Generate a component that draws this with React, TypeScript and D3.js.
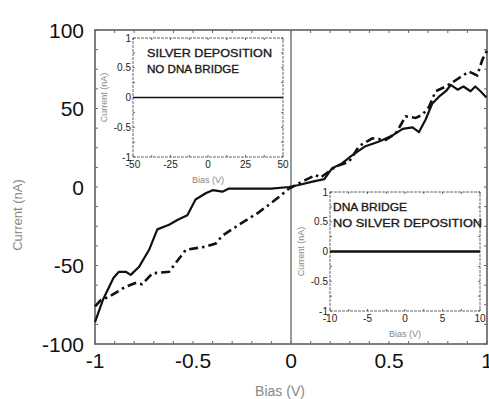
import React from "react";
import * as d3 from "d3";

// main I-V curves (Bias in V, Current in nA)
const solidBias = [-1, -0.96, -0.906, -0.878, -0.843, -0.818, -0.776, -0.724, -0.682, -0.622, -0.58, -0.529, -0.487, -0.435, -0.4, -0.35, -0.316, -0.2, -0.1, -0.01, 0.04, 0.11, 0.17, 0.21, 0.26, 0.31, 0.38, 0.45, 0.52, 0.57, 0.62, 0.653, 0.687, 0.72, 0.755, 0.79, 0.815, 0.85, 0.88, 0.916, 0.94, 0.967, 0.997];
const solidCurrent = [-86, -72, -58, -54, -54, -56, -51, -40, -27, -24, -21, -18, -8, -4, -2, -3, -1, -1, -1, 0, 1.3, 3.4, 5, 12, 15, 20, 26, 29, 33, 37, 38, 35, 43, 53, 57.5, 61, 65, 62, 64, 61, 64, 61, 57];

const dashBias = [-1, -0.97, -0.93, -0.843, -0.79, -0.76, -0.707, -0.622, -0.537, -0.435, -0.384, -0.35, -0.265, -0.163, -0.078, -0.01, 0.075, 0.126, 0.15, 0.228, 0.296, 0.347, 0.415, 0.483, 0.534, 0.585, 0.636, 0.67, 0.704, 0.738, 0.79, 0.84, 0.908, 0.95, 0.976, 1.0];
const dashCurrent = [-76, -72, -70, -63.5, -61, -62, -55, -54, -40, -38, -36, -31, -24, -16, -8, -1, 4.5, 7.6, 6, 13, 16, 26, 31, 30, 34, 45, 44, 46, 51, 61, 64, 68, 73.5, 71, 81, 87];

const mainXTicks = [-1, -0.5, 0, 0.5, 1];
const mainYTicks = [-100, -50, 0, 50, 100];

// insets: flat zero-current traces
const inset1Bias = [-50, 50];
const inset1Current = [0, 0];
const inset1XTicks = [-50, -25, 0, 25, 50];
const inset2Bias = [-10, 10];
const inset2Current = [0, 0];
const inset2XTicks = [-10, -5, 0, 5, 10];
const insetYTicks = [-1, -0.5, 0, 0.5, 1];

const FONT = "'Liberation Sans', Arial, Helvetica, sans-serif";

function Inset(props: {
    x0: number; y0: number; w: number; h: number;
    domain: [number, number]; xTicks: number[];
    bias: number[]; current: number[];
    lines: string[]; textX: number; lineW: number; textWidths: number[];
}) {
    const { x0, y0, w, h, domain, xTicks, bias, current, lines, textX, lineW, textWidths } = props;
    const x = d3.scaleLinear().domain(domain).range([x0, x0 + w]);
    const y = d3.scaleLinear().domain([-1, 1]).range([y0 + h, y0]);
    const line = d3.line<number>().x((d, i) => x(bias[i])).y((d) => y(d));
    const minorX = d3.range(domain[0], domain[1] + 0.001, (domain[1] - domain[0]) / 8);
    const minorY = d3.range(-1, 1.001, 0.25);
    return (
        <g fontFamily={FONT}>
            <rect x={x0} y={y0} width={w} height={h} fill="#fff" stroke="#666" strokeWidth={1} strokeDasharray="3,1" />
            {minorX.map((t, i) => (
                <g key={"mx" + i}>
                    <line x1={x(t)} x2={x(t)} y1={y0 + h} y2={y0 + h - 2} stroke="#666" />
                    <line x1={x(t)} x2={x(t)} y1={y0} y2={y0 + 2} stroke="#666" />
                </g>
            ))}
            {minorY.map((t, i) => (
                <g key={"my" + i}>
                    <line x1={x0} x2={x0 + 2} y1={y(t)} y2={y(t)} stroke="#666" />
                    <line x1={x0 + w} x2={x0 + w - 2} y1={y(t)} y2={y(t)} stroke="#666" />
                </g>
            ))}
            <path d={line(current) || ""} fill="none" stroke="#111" strokeWidth={lineW} />
            {xTicks.map((t) => (
                <text key={"xt" + t} x={x(t)} y={y0 + h + 11} fontSize={10} textAnchor="middle" fill="#222">{t}</text>
            ))}
            {insetYTicks.map((t) => (
                <text key={"yt" + t} x={x0 - 2} y={y(t) + 3.5} fontSize={10} textAnchor="end" fill="#222">{t}</text>
            ))}
            <text x={x0 + w / 2} y={y0 + h + 26} fontSize={9} textAnchor="middle" fill="#888">Bias (V)</text>
            <text transform={`translate(${x0 - 26},${y0 + h / 2}) rotate(-90)`} fontSize={9} textAnchor="middle" fill="#888">Current (nA)</text>
            {lines.map((s, i) => (
                <text key={s} x={textX} y={y0 + 19 + i * 16} fontSize={11.5} fill="#1a1a1a"
                    stroke="#1a1a1a" strokeWidth={0.35}
                    textLength={textWidths[i]} lengthAdjust="spacingAndGlyphs">{s}</text>
            ))}
        </g>
    );
}

export default function App() {
    const width = 489, height = 399;
    const left = 95, right = 487, top = 30, bottom = 344;
    const x = d3.scaleLinear().domain([-1, 1]).range([left, right]);
    const y = d3.scaleLinear().domain([-100, 100]).range([bottom, top]);

    const solidLine = d3.line<number>().x((d, i) => x(solidBias[i])).y((d) => y(d)).curve(d3.curveLinear);
    const dashLine = d3.line<number>().x((d, i) => x(dashBias[i])).y((d) => y(d)).curve(d3.curveLinear);

    const minorX = d3.range(-1, 1.001, 0.1);
    const minorY = d3.range(-100, 100.001, 12.5);

    return (
        <svg width={width} height={height} style={{ position: "absolute", left: 0, top: 0, background: "#fff" }}>
            <rect width={width} height={height} fill="#fff" />
            {/* main frame */}
            <rect x={left} y={top} width={right - left} height={bottom - top} fill="none" stroke="#555" strokeWidth={1.5} />
            {minorX.map((t, i) => (
                <g key={"mx" + i}>
                    <line x1={x(t)} x2={x(t)} y1={bottom} y2={bottom - 3} stroke="#666" />
                    <line x1={x(t)} x2={x(t)} y1={top} y2={top + 3} stroke="#666" />
                </g>
            ))}
            {minorY.map((t, i) => (
                <g key={"my" + i}>
                    <line x1={left} x2={left + 3} y1={y(t)} y2={y(t)} stroke="#666" />
                    <line x1={right} x2={right - 3} y1={y(t)} y2={y(t)} stroke="#666" />
                </g>
            ))}
            {/* zero bias line */}
            <line x1={x(0)} x2={x(0)} y1={top} y2={bottom} stroke="#777" strokeWidth={1.5} />

            <path d={dashLine(dashCurrent) || ""} fill="none" stroke="#111" strokeWidth={2.6} strokeDasharray="9,4,2.5,4" />
            <path d={solidLine(solidCurrent) || ""} fill="none" stroke="#111" strokeWidth={2.2} strokeLinejoin="round" />

            <g fontFamily={FONT}>
                {mainXTicks.map((t) => (
                    <text key={"x" + t} x={x(t)} y={bottom + 24} fontSize={21} textAnchor="middle" fill="#111">{t}</text>
                ))}
                {mainYTicks.map((t) => (
                    <text key={"y" + t} x={left - 11} y={y(t) + 7.5} fontSize={21} textAnchor="end" fill="#111">{t}</text>
                ))}
                <text x={280} y={396} fontSize={14} textAnchor="middle" fill="#888">Bias (V)</text>
                <text transform="translate(22,215) rotate(-90)" fontSize={13} textAnchor="middle" fill="#888">Current (nA)</text>
            </g>

            <Inset x0={133} y0={38} w={150} h={119} domain={[-50, 50]} xTicks={inset1XTicks}
                bias={inset1Bias} current={inset1Current} lines={["SILVER DEPOSITION", "NO DNA BRIDGE"]}
                textX={147} lineW={1.6} textWidths={[125, 92]} />
            <Inset x0={330} y0={192} w={150} h={119} domain={[-10, 10]} xTicks={inset2XTicks}
                bias={inset2Bias} current={inset2Current} lines={["DNA BRIDGE", "NO SILVER DEPOSITION"]}
                textX={333} lineW={2.6} textWidths={[74, 149]} />
        </svg>
    );
}
